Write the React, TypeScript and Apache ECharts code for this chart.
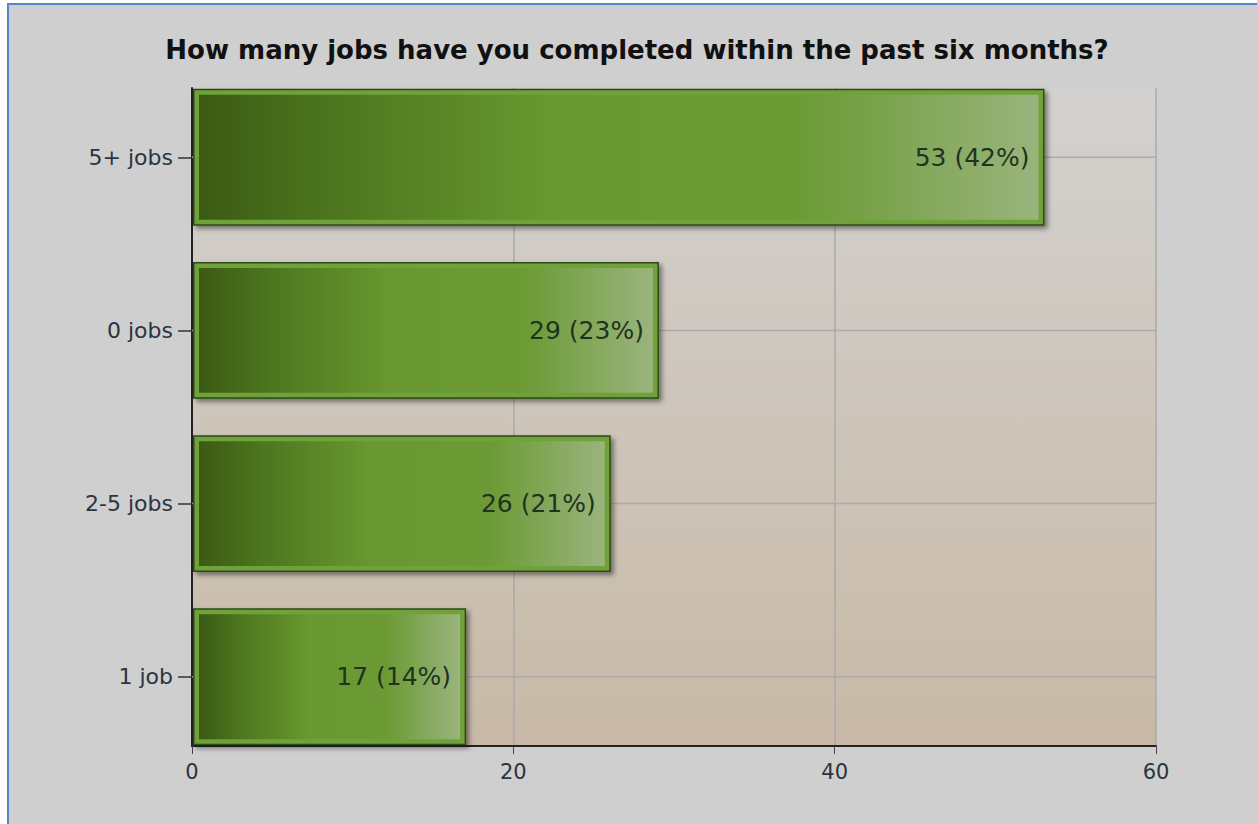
import React, { useEffect, useRef } from "react";
import * as echarts from "echarts";

const categories = ["5+ jobs", "0 jobs", "2-5 jobs", "1 job"];
const counts = [53, 29, 26, 17];
const percents = [42, 23, 21, 14];
const xTicks = [0, 20, 40, 60];
const titleText = "How many jobs have you completed within the past six months?";

const FONT = "DejaVu Sans, Verdana, sans-serif";

export default function App() {
  const ref = useRef<HTMLDivElement>(null);
  useEffect(() => {
    if (!ref.current) return;
    const chart = echarts.init(ref.current, null, { renderer: "svg" });
    const data = counts.map((c, i) => [c, i, percents[i]]);
    chart.setOption({
      animation: false,
      backgroundColor: "#cfcfcf",
      title: {
        text: titleText,
        left: 632,
        textAlign: "center",
        top: 32,
        textStyle: {
          fontFamily: FONT,
          fontWeight: "bold",
          fontSize: 26,
          color: "#111",
        },
      },
      graphic: [
        { type: "rect", shape: { x: 0, y: 0, width: 1257, height: 3 }, style: { fill: "#ffffff" }, silent: true },
        { type: "rect", shape: { x: 0, y: 0, width: 7, height: 824 }, style: { fill: "#ffffff" }, silent: true },
        { type: "rect", shape: { x: 7, y: 3, width: 1250, height: 2 }, style: { fill: "#5088c8" }, silent: true },
        { type: "rect", shape: { x: 7, y: 3, width: 2, height: 821 }, style: { fill: "#5088c8" }, silent: true },
      ],
      grid: {
        left: 192,
        right: 101,
        top: 88,
        bottom: 78,
        show: true,
        borderWidth: 0,
        backgroundColor: new echarts.graphic.LinearGradient(0, 0, 0, 1, [
          { offset: 0, color: "#d3d1cf" },
          { offset: 1, color: "#c8b9a6" },
        ]),
      },
      xAxis: {
        type: "value",
        min: xTicks[0],
        max: xTicks[xTicks.length - 1],
        interval: 20,
        axisLine: { show: true, onZero: false, lineStyle: { color: "#222", width: 2 } },
        axisTick: { show: true, length: 8, lineStyle: { color: "#444", width: 1 } },
        axisLabel: {
          fontFamily: FONT,
          fontSize: 21,
          color: "#2b3440",
          margin: 15,
        },
        splitLine: { show: true, lineStyle: { color: "#aaaaaa", width: 1.5 } },
      },
      yAxis: {
        type: "value",
        inverse: true,
        min: -0.4,
        max: categories.length - 0.6,
        axisLine: { show: true, onZero: false, lineStyle: { color: "#222", width: 2 } },
        axisTick: { show: true, length: 14, customValues: categories.map((_, i) => i), lineStyle: { color: "#333", width: 1.5 } },
        axisLabel: {
          customValues: categories.map((_, i) => i),
          formatter: (v: number) => categories[Math.round(v)] ?? "",
          fontFamily: FONT,
          fontSize: 22,
          color: "#2b3440",
          margin: 19,
        },
        splitLine: { show: false },
      },
      series: [
        {
          type: "custom",
          data,
          encode: { x: 0, y: 1 },
          renderItem: (params: any, api: any) => {
            const v = api.value(0);
            const idx = api.value(1);
            const pct = api.value(2);
            const p0 = api.coord([0, idx]);
            const p1 = api.coord([v, idx]);
            const pEnd = api.coord([xTicks[xTicks.length - 1], idx]);
            const h = api.size([0, 0.79])[1];
            const x0 = p0[0] + 1;
            const w = p1[0] - p0[0];
            const y0 = p0[1] - h / 2;
            return {
              type: "group",
              children: [
                {
                  type: "line",
                  shape: { x1: p0[0], y1: p0[1], x2: pEnd[0], y2: pEnd[1] },
                  style: { stroke: "#aaaaaa", lineWidth: 1.5 },
                },
                {
                  type: "rect",
                  shape: { x: x0, y: y0, width: w, height: h },
                  style: {
                    fill: "#2f4a14",
                    shadowBlur: 5,
                    shadowOffsetX: 3,
                    shadowOffsetY: 3,
                    shadowColor: "rgba(0,0,0,0.45)",
                  },
                },
                {
                  type: "rect",
                  shape: { x: x0 + 1.5, y: y0 + 1.5, width: w - 3, height: h - 3 },
                  style: { fill: "#6fa23a" },
                },
                {
                  type: "rect",
                  shape: { x: x0 + 6, y: y0 + 6, width: w - 12, height: h - 12 },
                  style: {
                    fill: new echarts.graphic.LinearGradient(0, 0, 1, 0, [
                      { offset: 0, color: "#3b5a13" },
                      { offset: 0.15, color: "#4c751e" },
                      { offset: 0.42, color: "#68982f" },
                      { offset: 0.72, color: "#6c9b36" },
                      { offset: 1, color: "#9ab47d" },
                    ]),
                  },
                },
                {
                  type: "text",
                  x: p1[0] - 14,
                  y: p1[1],
                  style: {
                    text: `${v} (${pct}%)`,
                    align: "right",
                    verticalAlign: "middle",
                    fontFamily: FONT,
                    fontSize: 25,
                    fill: "#1f3320",
                  },
                },
              ],
            };
          },
        },
      ],
    });
    return () => chart.dispose();
  }, []);
  return (
    <div
      ref={ref}
      style={{ position: "absolute", left: 0, top: 0, width: 1257, height: 824 }}
    />
  );
}
